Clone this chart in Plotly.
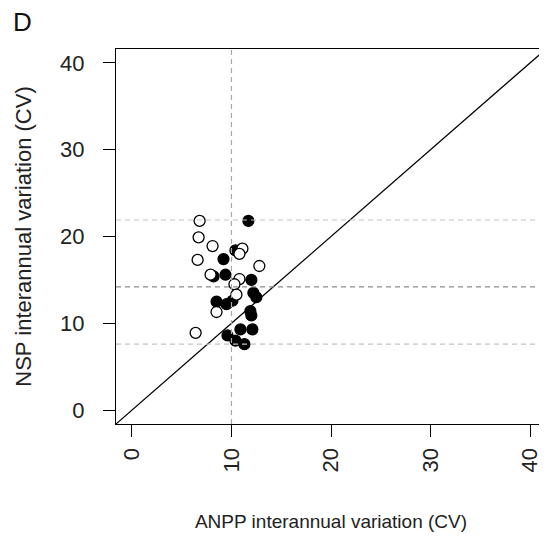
import plotly.graph_objects as go

# ANPP (x) vs NSP (y) interannual CV, open and filled sites
open_x = [6.8, 6.7, 8.1, 6.6, 11.1, 10.8, 12.8, 7.9, 10.8, 10.3, 10.5, 8.5, 6.4]
open_y = [21.8, 19.9, 18.9, 17.3, 18.6, 18.0, 16.6, 15.6, 15.1, 14.5, 13.3, 11.3, 8.9]

filled_x = [11.7, 10.4, 9.2, 9.4, 8.2, 12.0, 12.2, 12.5, 8.5, 9.5, 10.1, 11.9, 12.0,
            10.9, 12.1, 9.6, 10.4, 11.3]
filled_y = [21.8, 18.4, 17.4, 15.6, 15.4, 15.0, 13.5, 13.0, 12.5, 12.2, 12.6, 11.4, 10.9,
            9.3, 9.3, 8.6, 8.0, 7.6]

# reference lines
v_ref = [10]
h_ref = [21.9, 14.2, 7.6]
h_ref_colors = ["#c4c4c4", "#8c8c8c", "#c4c4c4"]

tick_vals = [0, 10, 20, 30, 40]
axis_range = [-1.6, 41.6]

FONT = "Liberation Sans, Arial, sans-serif"
DASH = "5px,4px"

fig = go.Figure()

# 1:1 line across the whole panel
fig.add_trace(go.Scatter(x=axis_range, y=axis_range, mode="lines",
                         line=dict(color="black", width=1.2), hoverinfo="skip"))

for xv in v_ref:
    fig.add_vline(x=xv, line=dict(color="#a8a8a8", width=1.2, dash=DASH))
for yv, c in zip(h_ref, h_ref_colors):
    fig.add_hline(y=yv, line=dict(color=c, width=1.2, dash=DASH))

fig.add_trace(go.Scatter(x=filled_x, y=filled_y, mode="markers",
                         marker=dict(size=11, color="black",
                                     line=dict(color="black", width=1.2))))
fig.add_trace(go.Scatter(x=open_x, y=open_y, mode="markers",
                         marker=dict(size=11, color="white",
                                     line=dict(color="black", width=1.3))))

axis_common = dict(
    range=axis_range, tickvals=tick_vals, showgrid=False, zeroline=False,
    showline=True, mirror=True, linecolor="black", linewidth=1.2,
    ticks="outside", ticklen=12, tickwidth=1.2, tickcolor="black",
    tickfont=dict(family=FONT, size=22, color="#222"),
)

fig.update_xaxes(**axis_common, tickangle=-90, ticklabelstandoff=2,
                 title=dict(text="ANPP interannual variation (CV)", standoff=43,
                            font=dict(family=FONT, size=19, color="#222")))
fig.update_yaxes(**axis_common, ticklabelstandoff=14,
                 title=dict(text="NSP interannual variation (CV)", standoff=22,
                            font=dict(family=FONT, size=22, color="#222")))

fig.add_annotation(text="D", xref="paper", yref="paper", x=-0.244, y=1.072,
                   xanchor="left", yanchor="middle", showarrow=False,
                   font=dict(family=FONT, size=26, color="#111"))

# page body adds an 8px offset, so the figure is sized 8px smaller
fig.update_layout(
    width=539, height=531,
    margin=dict(l=108, r=1, t=41, b=115),
    paper_bgcolor="white", plot_bgcolor="white",
    showlegend=False,
)

fig.write_html("out.html")
